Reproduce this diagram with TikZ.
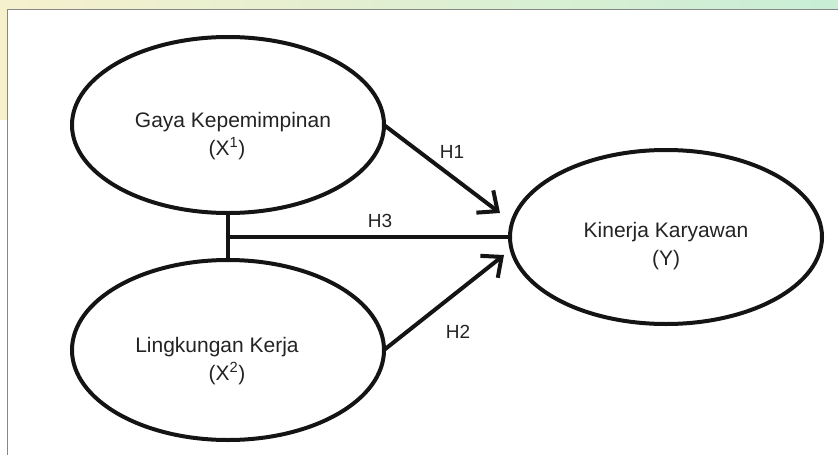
\documentclass[tikz,border=0pt]{standalone}
\usepackage{fontspec}
\setmainfont{Liberation Sans}
\usetikzlibrary{shapes.geometric}
\usetikzlibrary{arrows.meta}
\usetikzlibrary{calc}
\definecolor{inkline}{RGB}{20,20,20}
\definecolor{inktext}{RGB}{35,35,35}
\definecolor{wmgreen}{RGB}{200,238,214}
\definecolor{wmyellow}{RGB}{246,240,205}
\definecolor{framegray}{RGB}{135,135,135}
\tikzstyle{latent}=[draw=inkline, ellipse, line width=4pt, inner sep=0pt, outer sep=0pt, minimum width=312pt]
\tikzstyle{vartext}=[text=inktext, align=center, font=\fontsize{21}{28}\selectfont]
\tikzstyle{hyp}=[text=inktext, font=\fontsize{19}{22}\selectfont]
\tikzstyle{link}=[draw=inkline, line width=4pt]
\tikzstyle{effect}=[link, -{Straight Barb[length=16pt,width=28pt]}]

\begin{document}
\begin{tikzpicture}[x=1pt, y=-1pt]
        \useasboundingbox (0,0) rectangle (838,455);
        % watermark strips and page frame
        \shade[left color=wmyellow, right color=wmgreen] (0,0) rectangle (838,9);
        \fill[wmyellow] (0,9) rectangle (7,120);
        \draw[framegray, line width=1pt] (7,455) -- (7,9) -- (838,9);
        % variables
        \node[latent, minimum height=176pt] (gaya) at (228,125) {};
        \node[latent, minimum height=180pt] (lingkungan) at (228,350) {};
        \node[latent, minimum height=174pt] (kinerja) at (666,237) {};
        \node[vartext] (gayatext) at ($(gaya)+(5,11)$) {Gaya Kepemimpinan\\\hspace*{-12pt}(X\textsuperscript{1})};
        \node[vartext] (lingkungantext) at ($(lingkungan)+(-11,11)$) {Lingkungan Kerja\\\hspace*{20pt}(X\textsuperscript{2})};
        \node[vartext] (kinerjatext) at ($(kinerja)+(0,9)$) {Kinerja Karyawan\\(Y)};
        % hypotheses
        \coordinate (h1end) at ($(kinerja.west)+(-10,-24)$);
        \coordinate (h2end) at ($(kinerja.west)+(-6,18)$);
        \draw[effect] (gaya.east) -- (h1end);
        \draw[effect] (lingkungan.east) -- (h2end);
        \draw[link] (gaya.south) -- (lingkungan.north);
        \draw[link] (gaya.south |- kinerja.west) -- (kinerja.west);
        \node[hyp] (h1) at (452,152) {H1};
        \node[hyp] (h3) at (380,221) {H3};
        \node[hyp] (h2) at (458,332) {H2};
    \end{tikzpicture}
\end{document}
